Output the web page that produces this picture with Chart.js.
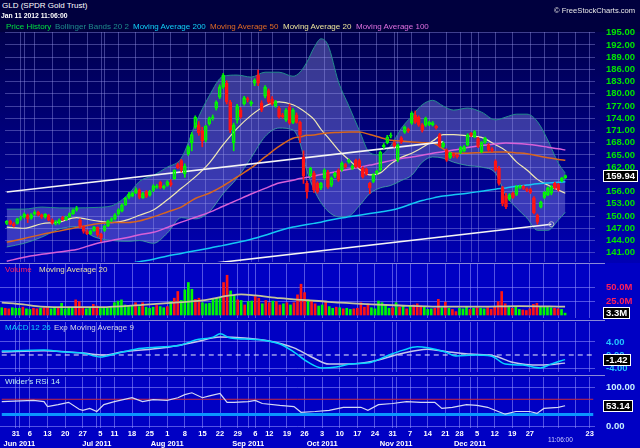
<!DOCTYPE html>
<html>
<head>
<meta charset="utf-8">
<title>GLD (SPDR Gold Trust)</title>
<script src="https://cdn.jsdelivr.net/npm/chart.js@4.4.1/dist/chart.umd.min.js"></script>
<style>
  html, body { margin: 0; padding: 0; width: 640px; height: 448px; overflow: hidden; background: #00003e; font-family: "Liberation Sans", Arial, sans-serif; }
  .bg, canvas, .txt, .sep { position: absolute; left: 0; }
  .txt { white-space: nowrap; font-size: 8px; line-height: 10px; }
  .sep { width: 605px; height: 1px; background: #8a8ad8; }
</style>
</head>
<body>
<div class="bg" style="top:0;width:640px;height:32px;background:#00003e"></div>
<div class="bg" style="top:32px;width:640px;height:231px;background:linear-gradient(#00004e,#0000b4)"></div>
<div class="bg" style="top:263px;width:640px;height:185px;background:#0000c4"></div>

<canvas id="cMain" width="640" height="250" style="top:22px"></canvas>
<canvas id="cVol" width="640" height="68" style="top:256px"></canvas>
<canvas id="cMacd" width="640" height="56" style="top:316px"></canvas>
<canvas id="cRsi" width="640" height="76" style="top:372px"></canvas>

<div class="sep" style="top:263px"></div>
<div class="sep" style="top:320px"></div>
<div class="sep" style="top:375px"></div>

<div class="txt" style="left:2px;top:1px;color:#fff">GLD (SPDR Gold Trust)</div>
<div class="txt" style="left:1px;top:12px;font-size:6.8px;line-height:8px;font-weight:bold;color:#fff">Jan 11 2012 11:06:00</div>
<div class="txt" style="left:554px;top:6px;font-size:7.6px;line-height:9px;color:#e8e8e8">© FreeStockCharts.com</div>

<div class="txt" style="left:6px;top:22px;color:#00e040">Price History</div>
<div class="txt" style="left:55px;top:22px;color:#1e8c8c">Bollinger Bands 20 2</div>
<div class="txt" style="left:133px;top:22px;color:#10d0f8">Moving Average 200</div>
<div class="txt" style="left:210px;top:22px;color:#e06a24">Moving Average 50</div>
<div class="txt" style="left:283px;top:22px;color:#ece49c">Moving Average 20</div>
<div class="txt" style="left:356px;top:22px;color:#e070e0">Moving Average 100</div>

<div class="txt" style="left:5px;top:265px;color:#ff2060">Volume</div>
<div class="txt" style="left:39px;top:265px;color:#e8e0a0">Moving Average 20</div>
<div class="txt" style="left:5px;top:323px;color:#10d0ff">MACD 12 26</div>
<div class="txt" style="left:54px;top:323px;color:#d8d8e8">Exp Moving Average 9</div>
<div class="txt" style="left:5px;top:377px;color:#c0f0f0">Wilder's RSI 14</div>
<div class="txt" style="left:548px;top:436px;font-size:6.5px;line-height:8px;color:#d0d0ff">11:06:00</div>

<script>
// trading days, May 24 2011 .. Jan 24 2012
const mayDays = [24, 25, 26, 27, 31];
const junDays = [1, 2, 3, 6, 7, 8, 9, 10, 13, 14, 15, 16, 17, 20, 21, 22, 23, 24, 27, 28, 29, 30];
const julDays = [1, 5, 6, 7, 8, 11, 12, 13, 14, 15, 18, 19, 20, 21, 22, 25, 26, 27, 28, 29];
const augDays = [1, 2, 3, 4, 5, 8, 9, 10, 11, 12, 15, 16, 17, 18, 19, 22, 23, 24, 25, 26, 29, 30, 31];
const sepDays = [1, 2, 6, 7, 8, 9, 12, 13, 14, 15, 16, 19, 20, 21, 22, 23, 26, 27, 28, 29, 30];
const octDays = [3, 4, 5, 6, 7, 10, 11, 12, 13, 14, 17, 18, 19, 20, 21, 24, 25, 26, 27, 28, 31];
const novDays = [1, 2, 3, 4, 7, 8, 9, 10, 11, 14, 15, 16, 17, 18, 21, 22, 23, 25, 28, 29, 30];
const decDays = [1, 2, 5, 6, 7, 8, 9, 12, 13, 14, 15, 16, 19, 20, 21, 22, 23, 27, 28, 29, 30];
const janDays = [3, 4, 5, 6, 9, 10, 11, 12, 13, 17, 18, 19, 20, 23, 24];

// daily prices (USD)
const opens = [
  148.2, 148.8, 148.1, 148.2, 149.4, 149.8, 150.2, 149.5, 150.5, 151.0,
  150.3, 149.8, 150.2, 149.0, 148.2, 148.3, 149.6, 149.1, 149.8, 150.6,
  151.5, 149.0, 147.4, 146.2, 145.7, 146.4, 147.2, 145.5, 146.5, 147.6,
  148.9, 149.3, 150.5, 151.2, 152.8, 154.6, 155.0, 155.7, 156.4, 154.5,
  156.0, 155.1, 156.3, 157.0, 158.3, 156.9, 157.5, 158.2, 159.2, 162.6,
  163.6, 160.4, 165.3, 168.0, 171.8, 172.4, 171.0, 168.6, 172.7, 174.0,
  176.5, 179.2, 181.7, 182.6, 178.0, 168.0, 173.5, 176.0, 177.6, 178.8,
  177.5, 182.6, 184.6, 177.8, 179.4, 180.8, 178.7, 177.0, 176.5, 174.8,
  173.5, 176.8, 173.0, 174.8, 173.0, 164.5, 158.0, 160.0, 160.5, 158.0,
  156.9, 159.4, 160.8, 157.6, 159.8, 161.3, 161.3, 162.6, 163.3, 161.7,
  163.7, 163.6, 161.8, 161.5, 158.0, 158.5, 160.5, 161.3, 167.0, 168.0,
  169.6, 168.0, 163.7, 169.2, 170.6, 171.3, 172.8, 174.8, 174.3, 172.4,
  172.3, 172.5, 172.4, 172.0, 170.0, 167.0, 166.2, 164.4, 165.3, 165.0,
  165.6, 166.0, 167.5, 170.3, 169.4, 169.0, 165.8, 168.1, 167.5, 166.5,
  163.5, 161.8, 157.0, 155.0, 154.2, 155.6, 155.3, 157.0, 157.3, 156.7,
  156.5, 154.5, 150.2, 152.2, 154.6, 155.2, 155.6, 158.0, 157.7, 158.6, 159.4
];
const highs = [
  148.9, 149.0, 148.4, 149.5, 150.0, 150.8, 150.5, 150.6, 151.3, 151.2,
  150.5, 150.6, 150.4, 149.3, 148.9, 149.3, 149.9, 150.0, 150.8, 151.7,
  152.4, 149.3, 147.6, 146.6, 146.6, 147.5, 147.4, 145.8, 147.7, 149.0,
  149.6, 150.6, 151.8, 153.0, 154.6, 155.8, 155.9, 156.9, 156.7, 155.8,
  156.3, 156.3, 157.7, 157.7, 158.6, 157.6, 158.7, 158.9, 161.4, 163.0,
  163.9, 162.8, 167.3, 170.5, 174.6, 173.2, 171.8, 172.3, 174.3, 174.8,
  178.3, 182.2, 185.0, 183.2, 178.4, 172.8, 177.4, 176.6, 179.4, 179.2,
  178.3, 183.7, 185.8, 178.3, 182.0, 181.2, 179.3, 178.4, 176.9, 175.2,
  176.4, 177.5, 176.4, 175.3, 173.3, 166.0, 158.6, 162.0, 161.0, 158.4,
  158.3, 161.6, 161.2, 159.6, 160.8, 161.6, 163.3, 162.9, 164.0, 162.6,
  164.0, 164.0, 162.1, 161.8, 158.3, 160.4, 161.3, 166.0, 167.8, 169.8,
  170.4, 168.3, 167.7, 169.5, 172.1, 171.6, 175.6, 175.8, 174.6, 172.7,
  174.3, 173.3, 173.2, 172.3, 170.3, 168.2, 166.5, 165.7, 165.5, 165.2,
  167.1, 167.3, 170.2, 170.5, 171.0, 169.3, 168.3, 169.4, 167.8, 166.8,
  163.8, 162.2, 157.3, 155.6, 155.5, 155.9, 157.5, 157.6, 157.5, 156.9,
  156.8, 154.8, 150.5, 153.7, 156.0, 157.2, 157.5, 158.3, 158.0, 159.5, 160.1
];
const lows = [
  147.9, 147.8, 147.3, 148.0, 149.0, 149.5, 148.4, 149.2, 150.2, 150.0,
  149.4, 149.5, 148.8, 148.0, 147.8, 148.0, 148.9, 148.9, 149.6, 150.4,
  151.2, 147.0, 145.8, 145.4, 145.4, 146.2, 145.0, 143.8, 146.2, 147.4,
  148.6, 149.0, 150.2, 151.0, 152.6, 154.2, 154.7, 155.5, 154.2, 154.3,
  154.5, 154.9, 156.0, 156.8, 156.7, 156.6, 157.3, 157.3, 159.0, 161.6,
  160.8, 159.5, 164.9, 166.0, 171.5, 169.8, 167.0, 168.2, 172.3, 173.5,
  176.0, 178.8, 181.3, 177.5, 170.5, 166.0, 172.8, 174.0, 177.2, 178.0,
  177.0, 182.0, 182.0, 175.6, 179.0, 177.6, 177.2, 176.7, 174.0, 174.0,
  173.2, 172.5, 172.7, 172.8, 168.0, 158.0, 154.4, 159.6, 155.8, 155.6,
  156.5, 159.0, 156.8, 157.2, 159.4, 158.5, 161.0, 161.7, 163.0, 161.4,
  161.8, 161.8, 159.3, 160.0, 155.5, 158.2, 160.2, 161.0, 166.6, 167.7,
  169.2, 166.9, 163.3, 167.8, 170.3, 170.5, 172.5, 172.7, 172.0, 170.6,
  172.0, 172.2, 172.1, 171.3, 166.9, 166.7, 163.4, 164.1, 164.3, 164.2,
  165.3, 165.8, 167.2, 169.5, 169.2, 166.8, 165.5, 167.8, 165.9, 165.8,
  161.0, 157.6, 152.5, 151.8, 153.8, 154.3, 155.0, 156.7, 156.5, 156.0,
  155.5, 150.5, 148.0, 152.0, 154.3, 155.0, 155.2, 156.6, 156.1, 158.4, 159.2
];
const closes = [
  148.7, 148.0, 147.6, 149.3, 149.6, 150.4, 149.3, 150.3, 150.9, 150.3,
  149.7, 150.4, 149.0, 148.3, 148.6, 149.0, 149.2, 149.7, 150.6, 151.4,
  151.9, 147.5, 146.2, 145.7, 146.3, 147.2, 145.4, 144.6, 147.5, 148.8,
  149.3, 150.3, 151.5, 152.7, 154.4, 155.4, 155.6, 156.5, 154.6, 155.5,
  154.8, 156.0, 157.4, 157.3, 157.0, 157.3, 158.4, 157.7, 161.2, 161.9,
  161.3, 162.2, 167.0, 170.0, 174.2, 170.4, 168.5, 172.0, 174.0, 174.3,
  177.9, 181.7, 184.6, 178.0, 171.2, 172.3, 177.0, 174.3, 179.0, 178.5,
  177.9, 183.4, 182.6, 176.0, 181.6, 178.0, 177.5, 178.1, 174.3, 174.4,
  176.0, 172.8, 176.0, 173.0, 170.0, 159.8, 156.0, 161.7, 156.4, 156.0,
  158.0, 161.3, 157.2, 159.3, 160.5, 158.8, 163.0, 162.0, 163.7, 162.2,
  162.1, 162.0, 159.6, 160.3, 156.9, 160.2, 161.0, 165.7, 167.4, 169.4,
  169.9, 167.2, 167.4, 168.1, 171.8, 170.9, 175.3, 173.0, 172.3, 171.0,
  174.0, 173.0, 172.9, 171.6, 167.2, 167.9, 163.7, 165.4, 164.8, 164.6,
  166.8, 167.0, 169.9, 169.8, 170.7, 167.1, 168.0, 169.1, 166.2, 166.1,
  161.3, 158.0, 153.0, 152.3, 155.2, 154.6, 157.2, 157.3, 156.8, 156.3,
  155.8, 150.8, 148.5, 153.4, 155.8, 156.9, 157.2, 156.9, 156.4, 159.3, 159.94
];
// daily volume, millions of shares
const volumes = [
  13, 12, 11, 13, 12, 12, 14, 11, 10, 12,
  11, 12, 13, 15, 11, 12, 13, 21, 11, 12,
  13, 27, 24, 14, 11, 12, 19, 16, 13, 12,
  13, 15, 22, 25, 27, 18, 16, 17, 22, 15,
  22, 14, 12, 14, 17, 15, 13, 15, 24, 30,
  42, 26, 45, 58, 46, 28, 30, 22, 20, 21,
  28, 30, 32, 58, 71, 43, 36, 27, 26, 18,
  24, 25, 33, 30, 20, 26, 22, 25, 24, 18,
  20, 22, 18, 22, 36, 55, 40, 27, 25, 20,
  16, 18, 25, 15, 12, 14, 13, 11, 12, 10,
  11, 12, 22, 14, 20, 13, 11, 25, 22, 18,
  12, 13, 22, 14, 16, 11, 17, 18, 20, 16,
  14, 10, 11, 12, 28, 13, 23, 12, 10, 6,
  12, 11, 14, 10, 12, 13, 12, 11, 13, 10,
  15, 24, 42, 20, 16, 12, 14, 10, 9, 8,
  11, 19, 21, 14, 15, 14, 13, 12, 11, 10, 3.3
];

// indicator lines, read at these day positions
const lineIdx = [0, 5, 10, 15, 20, 25, 30, 35, 38, 42, 46, 50, 54, 58, 62, 66, 70, 74, 78, 82, 84, 86, 88, 90, 92, 95, 98,
  101, 104, 107, 110, 113, 116, 119, 122, 125, 128, 132, 136, 140, 143, 146, 149, 152, 155, 158, 160];
const bbUpper = [151.7, 151.7, 152.2, 152.0, 152.0, 152.1, 152.5, 155.5, 158.5, 160.0, 162.0, 164.2, 172.5, 179.5, 184.3, 184.6, 184.1,
  185.3, 185.3, 184.3, 185.3, 187.8, 191.3, 193.5, 192.0, 183.0, 177.0, 171.0, 165.5, 165.0, 167.3, 171.5, 174.5, 177.3, 178.4, 177.0, 176.0,
  176.5, 175.5, 173.6, 174.3, 175.0, 175.0, 173.2, 168.6, 163.0, 160.5];
const bbLower = [142.4, 143.3, 144.8, 146.8, 147.4, 144.9, 144.0, 143.8, 144.0, 143.3, 145.8, 149.6, 149.3, 151.0, 155.5, 159.3, 164.3,
  169.5, 171.6, 171.1, 167.9, 161.0, 156.5, 153.3, 151.2, 149.8, 150.0, 152.5, 155.5, 156.9, 157.5, 158.7, 160.0, 163.2, 164.5, 164.2, 163.2,
  162.4, 162.0, 160.5, 155.0, 152.0, 149.5, 146.5, 146.5, 149.0, 150.9];
const ma20 = [147.3, 147.0, 148.1, 148.5, 149.6, 148.9, 148.4, 149.2, 150.2, 151.5, 154.0, 156.8, 159.6, 163.0, 167.5, 171.5, 174.7,
  177.0, 178.0, 177.3, 176.4, 175.2, 173.7, 171.3, 169.3, 166.2, 163.8, 161.5, 160.1, 160.6, 162.8, 164.4, 165.4, 166.8, 168.4, 170.0, 170.0,
  169.7, 169.3, 167.5, 166.0, 163.3, 161.3, 159.0, 157.6, 156.4, 155.6];
const ma50 = [143.6, 144.5, 145.5, 146.3, 147.2, 148.0, 148.4, 148.4, 148.8, 149.8, 151.0, 152.2, 154.3, 155.6, 157.4, 159.6, 161.8,
  164.5, 167.1, 169.1, 169.4, 169.8, 169.9, 170.2, 170.4, 170.5, 170.6, 170.6, 170.0, 169.3, 168.6, 168.4, 168.2, 168.0, 167.9, 166.5, 165.4,
  165.4, 165.6, 165.7, 165.7, 165.5, 165.3, 164.8, 164.3, 163.9, 163.7];
const ma100 = [138.9, 139.9, 140.6, 141.2, 141.8, 143.1, 144.0, 144.8, 145.4, 146.0, 147.2, 148.5, 149.7, 150.9, 152.4, 153.9, 155.4,
  156.8, 158.1, 158.8, 159.2, 159.5, 159.8, 160.2, 160.5, 161.0, 161.5, 162.0, 162.5, 163.0, 163.6, 164.1, 164.5, 164.9, 165.4, 165.8, 166.2,
  166.8, 167.3, 167.7, 167.9, 167.8, 167.6, 167.3, 166.9, 166.5, 166.2];
const ma200 = [135.2, 135.6, 136.0, 136.4, 136.8, 137.2, 137.7, 138.3, 138.8, 139.4, 140.2, 140.8, 141.5, 142.1, 142.8, 143.5, 144.3,
  145.3, 146.4, 147.3, 147.6, 147.9, 148.2, 148.5, 148.9, 149.4, 149.8, 150.2, 150.6, 151.0, 151.4, 152.1, 153.0, 153.8, 154.4, 154.9, 155.2,
  155.6, 156.1, 156.6, 156.9, 157.3, 157.6, 157.9, 158.1, 158.3, 158.4];

// trend channel drawn on the price panel
const trendUpIdx = [0, 125];
const trendUpVal = [155.9, 168.2];
const trendLowIdx = [60, 156];
const trendLowVal = [138.5, 148.0];

const volMaIdx = [0, 6, 11, 20, 28, 40, 49, 57, 64, 68, 72, 79, 85, 90, 96, 105, 113, 124, 136, 147, 160];
const volMa = [22, 19, 15, 14, 14, 18, 22, 26, 34, 37, 35, 30, 27, 25, 22, 19, 17, 15, 15, 16, 15];

const macdIdx = [0, 12, 17, 23, 28, 32, 38, 46, 51, 55, 60, 62, 65, 69, 74, 79, 83, 87, 91, 95, 99, 105, 110, 114, 118, 121, 126,
  129, 134, 139, 143, 148, 153, 156, 160];
const macd = [1.2, 1.5, 1.0, 0.6, -0.6, 0.3, 1.8, 2.5, 3.1, 4.6, 5.5, 6.5, 5.2, 4.9, 4.6, 3.4, 0.9, -2.2, -4.0, -3.7, -2.8, -2.2,
  0.0, 1.5, 2.5, 2.2, 0.9, -0.3, 0.0, -0.3, -2.8, -3.1, -4.0, -2.8, -1.42];
const signalIdx = [0, 12, 23, 29, 34, 46, 55, 62, 69, 76, 83, 88, 93, 99, 106, 113, 121, 127, 133, 140, 145, 153, 160];
const signal = [0.9, 1.3, 0.6, 0.0, 0.9, 2.2, 4.0, 5.5, 5.2, 4.3, 2.2, -0.6, -2.8, -2.8, -1.8, 0.3, 1.8, 0.9, 0.3, -0.3, -2.2, -3.1, -2.5];

const rsiIdx = [0, 9, 12, 13, 16, 19, 22, 23, 25, 27, 29, 32, 37, 40, 43, 47, 50, 52, 54, 57, 59, 62, 64, 66, 70, 72, 74, 79, 83,
  85, 89, 93, 97, 102, 104, 107, 111, 115, 119, 123, 125, 128, 132, 135, 138, 141, 143, 146, 150, 152, 154, 158, 160];
const rsi = [64, 67, 64, 51, 56, 62, 44, 41, 46, 38, 56, 64, 74, 64, 69, 67, 74, 82, 87, 74, 79, 85, 62, 62, 64, 67, 59, 54, 51,
  36, 38, 41, 49, 49, 41, 56, 59, 64, 62, 62, 46, 49, 56, 54, 49, 38, 31, 38, 38, 33, 46, 49, 53.14];

// axis ticks
const priceTicks = [141, 144, 147, 150, 153, 156, 159, 162, 165, 168, 171, 174, 177, 180, 183, 186, 189, 192, 195];
const volTicks = [25, 50];
const macdTicks = [-4, 0, 4];
const rsiTicks = [0, 100];
const dayTicks = ['2011-05-31', '2011-06-06', '2011-06-13', '2011-06-20', '2011-06-27', '2011-07-05', '2011-07-11', '2011-07-18',
  '2011-07-25', '2011-08-01', '2011-08-08', '2011-08-15', '2011-08-22', '2011-08-29', '2011-09-06', '2011-09-12', '2011-09-19',
  '2011-09-26', '2011-10-03', '2011-10-10', '2011-10-17', '2011-10-24', '2011-10-31', '2011-11-07', '2011-11-14', '2011-11-21',
  '2011-11-28', '2011-12-05', '2011-12-12', '2011-12-19', '2011-12-27', '2012-01-23'];
const monthTicks = ['2011-06-01', '2011-07-01', '2011-08-01', '2011-09-01', '2011-10-03', '2011-11-01', '2011-12-01'];
const monthNames = ['Jun 2011', 'Jul 2011', 'Aug 2011', 'Sep 2011', 'Oct 2011', 'Nov 2011', 'Dec 2011'];
const extraGrid = ['2012-01-03', '2012-01-09', '2012-01-17'];

// ---------------------------------------------------------------
const pad2 = n => (n < 10 ? '0' : '') + n;
const dayLabels = [].concat(
  mayDays.map(d => '2011-05-' + pad2(d)), junDays.map(d => '2011-06-' + pad2(d)),
  julDays.map(d => '2011-07-' + pad2(d)), augDays.map(d => '2011-08-' + pad2(d)),
  sepDays.map(d => '2011-09-' + pad2(d)), octDays.map(d => '2011-10-' + pad2(d)),
  novDays.map(d => '2011-11-' + pad2(d)), decDays.map(d => '2011-12-' + pad2(d)),
  janDays.map(d => '2012-01-' + pad2(d))
);
const dayTickIdx = new Set(dayTicks.map(d => dayLabels.indexOf(d)));
const monthIdx = new Map(monthTicks.map((d, j) => [dayLabels.indexOf(d), monthNames[j]]));
const gridIdx = new Set(dayTicks.concat(monthTicks, extraGrid).map(d => dayLabels.indexOf(d)));
const last = closes.length - 1;
const first = dayLabels[0], end = dayLabels[dayLabels.length - 1];

const UP = '#00f800', DOWN = '#ff1414';
const isUp = closes.map((c, i) => c >= opens[i]);
const candleCol = isUp.map(u => (u ? UP : DOWN));

const pts = (idx, vals) => idx.map((k, j) => ({ x: dayLabels[k], y: vals[j] }));

Chart.defaults.font.family = '"Liberation Sans", Arial, sans-serif';

const valueBox = {
  id: 'valueBox',
  afterDraw(chart, args, o) {
    const ctx = chart.ctx;
    const y = Math.round(chart.scales.y.getPixelForValue(o.value));
    ctx.save();
    ctx.font = 'bold 9.5px "Liberation Sans", Arial, sans-serif';
    const w = Math.round(ctx.measureText(o.text).width) + 5;
    ctx.fillStyle = '#000';
    ctx.fillRect(603, y - 6, w, 12);
    ctx.strokeStyle = '#fff';
    ctx.lineWidth = 1;
    ctx.strokeRect(603.5, y - 5.5, w, 11);
    ctx.fillStyle = '#fff';
    ctx.textBaseline = 'middle';
    ctx.fillText(o.text, 606, y + 0.5);
    ctx.restore();
  }
};

function xAxis(showTicks, gridCol) {
  return {
    type: 'category',
    offset: true,
    grid: { offset: false, drawTicks: false, lineWidth: 1, color: c => (gridIdx.has(c.index) ? gridCol : 'rgba(0,0,0,0)') },
    border: { display: false },
    ticks: {
      display: showTicks, autoSkip: false, maxRotation: 0, minRotation: 0, padding: 1,
      color: '#ffffff', font: { size: 7.5, weight: 'bold' },
      callback: (v, i) => (dayTickIdx.has(i) ? String(parseInt(dayLabels[i].slice(8), 10)) : '')
    },
    afterFit: s => { s.paddingLeft = 0; s.paddingRight = 0; }
  };
}

function yAxis(min, max, ticks, fmt, color, gridCol) {
  return {
    position: 'right',
    min: min, max: max,
    afterBuildTicks: s => { s.ticks = ticks.map(v => ({ value: v })); },
    afterFit: s => { s.width = 45; s.paddingTop = 0; s.paddingBottom = 0; },
    grid: { drawTicks: false, lineWidth: 1, color: gridCol },
    border: { display: false },
    ticks: { autoSkip: false, padding: 11, color: color, font: { size: 9.5, weight: 'bold' }, callback: fmt }
  };
}

function options(padding, scales, box) {
  return {
    responsive: false,
    animation: false,
    events: [],
    layout: { padding: padding },
    plugins: { legend: { display: false }, tooltip: { enabled: false }, valueBox: box },
    scales: scales
  };
}

function line(data, color, width, order, extra) {
  return Object.assign({
    type: 'line', data: data, borderColor: color, borderWidth: width, pointRadius: 0,
    cubicInterpolationMode: 'monotone', fill: false, order: order
  }, extra || {});
}

const mainGrid = 'rgba(150,150,230,0.42)';
const lowGrid = 'rgba(150,150,255,0.55)';

// price panel
new Chart(document.getElementById('cMain'), {
  type: 'bar',
  data: {
    labels: dayLabels,
    datasets: [
      line(pts(lineIdx, bbUpper), '#238c8c', 1, 10, { fill: '+1', backgroundColor: 'rgba(150,150,235,0.38)' }),
      line(pts(lineIdx, bbLower), '#238c8c', 1, 10),
      line(pts(lineIdx, ma200), '#14c8f4', 1.5, 6),
      line(pts(lineIdx, ma100), '#d860d8', 1.5, 6),
      line(pts(lineIdx, ma50), '#d8661e', 1.5, 6),
      line(pts(lineIdx, ma20), '#f0e8b4', 1.2, 6),
      line(pts(trendUpIdx, trendUpVal), '#f4f4f4', 1.6, 5, { cubicInterpolationMode: 'default', tension: 0 }),
      line(pts(trendLowIdx, trendLowVal), '#f4f4f4', 1.6, 5, {
        cubicInterpolationMode: 'default', tension: 0, pointRadius: [0, 2.5],
        pointBorderColor: '#b8b8c8', pointBackgroundColor: 'rgba(0,0,0,0)', pointBorderWidth: 1
      }),
      {
        type: 'bar', order: 3, grouped: false, barThickness: 1,
        data: closes.map((c, i) => [Math.max(opens[i], c), highs[i]]),
        backgroundColor: candleCol, borderWidth: 0
      },
      {
        type: 'bar', order: 3, grouped: false, barThickness: 1,
        data: closes.map((c, i) => [lows[i], Math.min(opens[i], c)]),
        backgroundColor: candleCol, borderWidth: 0
      },
      {
        type: 'bar', order: 2, grouped: false, barThickness: 3,
        data: closes.map((c, i) => [opens[i], c]),
        backgroundColor: isUp.map(u => (u ? 'rgba(0,0,0,0)' : DOWN)),
        borderColor: candleCol, borderWidth: 1, borderSkipped: false
      }
    ]
  },
  options: options({ top: 10, bottom: 10, left: 0, right: 0 }, {
    x: xAxis(false, mainGrid),
    y: yAxis(138.72, 195.17, priceTicks, v => v.toFixed(2), '#00e600', mainGrid)
  }, { value: closes[last], text: closes[last].toFixed(2) }),
  plugins: [valueBox]
});

// volume panel
new Chart(document.getElementById('cVol'), {
  type: 'bar',
  data: {
    labels: dayLabels,
    datasets: [
      line(pts(volMaIdx, volMa), '#c4c49a', 1.8, 1),
      { type: 'bar', order: 2, grouped: false, barThickness: 2, data: volumes, backgroundColor: candleCol, borderWidth: 0 }
    ]
  },
  options: options({ top: 8, bottom: 6, left: 0, right: 0 }, {
    x: xAxis(false, lowGrid),
    y: yAxis(-5.36, 91.1, volTicks, v => v.toFixed(1) + 'M', '#ff1e5a', lowGrid)
  }, { value: volumes[last], text: volumes[last].toFixed(1) + 'M' }),
  plugins: [valueBox]
});

// MACD panel
new Chart(document.getElementById('cMacd'), {
  type: 'line',
  data: {
    labels: dayLabels,
    datasets: [
      line([{ x: first, y: 0 }, { x: end, y: 0 }], '#f0f0ff', 1, 3, { borderDash: [5, 4], cubicInterpolationMode: 'default', tension: 0 }),
      line(pts(signalIdx, signal), '#c4c8ec', 1.5, 2),
      line(pts(macdIdx, macd), '#08d4ff', 1.5, 1)
    ]
  },
  options: options({ top: 6, bottom: 0, left: 0, right: 0 }, {
    x: xAxis(false, lowGrid),
    y: yAxis(-5.23, 10.15, macdTicks, v => v.toFixed(2), '#22c4ff', c => (c.tick.value === 0 ? 'rgba(0,0,0,0)' : lowGrid))
  }, { value: macd[macd.length - 1], text: macd[macd.length - 1].toFixed(2) }),
  plugins: [valueBox]
});

// RSI panel with the date axis
const rsiX = xAxis(true, lowGrid);
new Chart(document.getElementById('cRsi'), {
  type: 'line',
  data: {
    labels: dayLabels,
    datasets: [
      line([{ x: first, y: 70 }, { x: end, y: 70 }], '#c8283c', 1, 3, { cubicInterpolationMode: 'default', tension: 0 }),
      line([{ x: first, y: 30 }, { x: end, y: 30 }], '#0a96ff', 3, 3, { cubicInterpolationMode: 'default', tension: 0 }),
      line(pts(rsiIdx, rsi), '#d4d8f4', 1.2, 1, { cubicInterpolationMode: 'default', tension: 0 })
    ]
  },
  options: options({ top: 5, bottom: 0, left: 0, right: 0 }, {
    x: rsiX,
    x2: {
      type: 'category', position: 'bottom', offset: true,
      grid: { display: false, drawTicks: false },
      border: { display: false },
      ticks: {
        autoSkip: false, maxRotation: 0, minRotation: 0, padding: 0,
        color: '#ffffff', font: { size: 7.5, weight: 'bold' },
        callback: (v, i) => monthIdx.get(i) || ''
      },
      afterFit: s => { s.paddingLeft = 0; s.paddingRight = 0; }
    },
    y: yAxis(-5.1, 128.2, rsiTicks, v => v.toFixed(2), '#c8f0ff', lowGrid)
  }, { value: rsi[rsi.length - 1], text: rsi[rsi.length - 1].toFixed(2) }),
  plugins: [valueBox]
});
</script>
</body>
</html>
